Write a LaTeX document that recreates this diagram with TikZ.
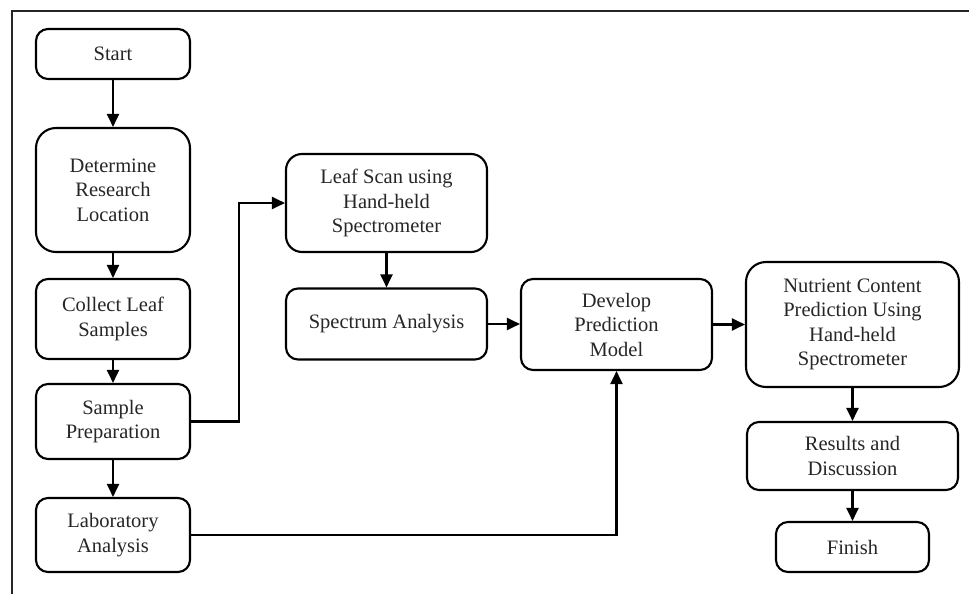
\documentclass[tikz,border=0pt]{standalone}
\usepackage{fontspec}
\setmainfont{Liberation Serif}
\usetikzlibrary{arrows.meta}
\begin{document}
\begin{tikzpicture}[x=1pt,y=-1pt,
  box/.style={draw,line width=2.1pt,rounded corners=12pt,align=center,
    inner sep=0pt,font=\fontsize{20.5}{24.5}\selectfont,text=black!85},
  bigbox/.style={box,rounded corners=20pt},
  arr/.style={line width=2.1pt,-{Triangle[length=13pt,width=12pt]}},
  frame/.style={line width=2.4pt,black!85}]
\useasboundingbox (0,0) rectangle (969,594);
\draw[frame] (969,11) -- (12,11) -- (12,594);
\node[box,minimum width=154pt,minimum height=50pt] (start) at (113,54) {Start};
\node[bigbox,minimum width=154pt,minimum height=124pt] (det) at (113,190) {Determine\\Research\\Location};
\node[box,minimum width=154pt,minimum height=80pt] (coll) at (113,319) {Collect Leaf\\Samples};
\node[box,minimum width=154pt,minimum height=75pt] (prep) at (113,421.5) {Sample\\Preparation};
\node[box,minimum width=154pt,minimum height=74pt] (lab) at (113,535) {Laboratory\\Analysis};
\node[box,rounded corners=16pt,minimum width=201pt,minimum height=98pt] (scan) at (386.5,203) {Leaf Scan using\\Hand-held\\Spectrometer};
\node[box,minimum width=201pt,minimum height=71pt] (spec) at (386.5,324) {Spectrum Analysis};
\node[box,minimum width=191pt,minimum height=91pt] (dev) at (616.5,324.5) {Develop\\Prediction\\Model};
\node[bigbox,minimum width=213pt,minimum height=125pt] (nut) at (852.5,324.5) {Nutrient Content\\Prediction Using\\Hand-held\\Spectrometer};
\node[box,minimum width=211pt,minimum height=68pt] (res) at (852.5,456) {Results and\\Discussion};
\node[box,minimum width=153pt,minimum height=50pt] (fin) at (852.5,547) {Finish};
\draw[arr] (start) -- (det);
\draw[arr] (det) -- (coll);
\draw[arr] (coll) -- (prep);
\draw[arr] (prep) -- (lab);
\draw[arr] (prep.east) -- ++(48,0) |- (scan.west);
\draw[arr] (scan) -- (spec);
\draw[arr] (spec.east) -- (spec.east -| dev.west);
\draw[arr] (lab.east) -| (dev.south);
\draw[arr] (dev) -- (nut);
\draw[arr] (nut) -- (res);
\draw[arr] (res) -- (fin);
\end{tikzpicture}
\end{document}
